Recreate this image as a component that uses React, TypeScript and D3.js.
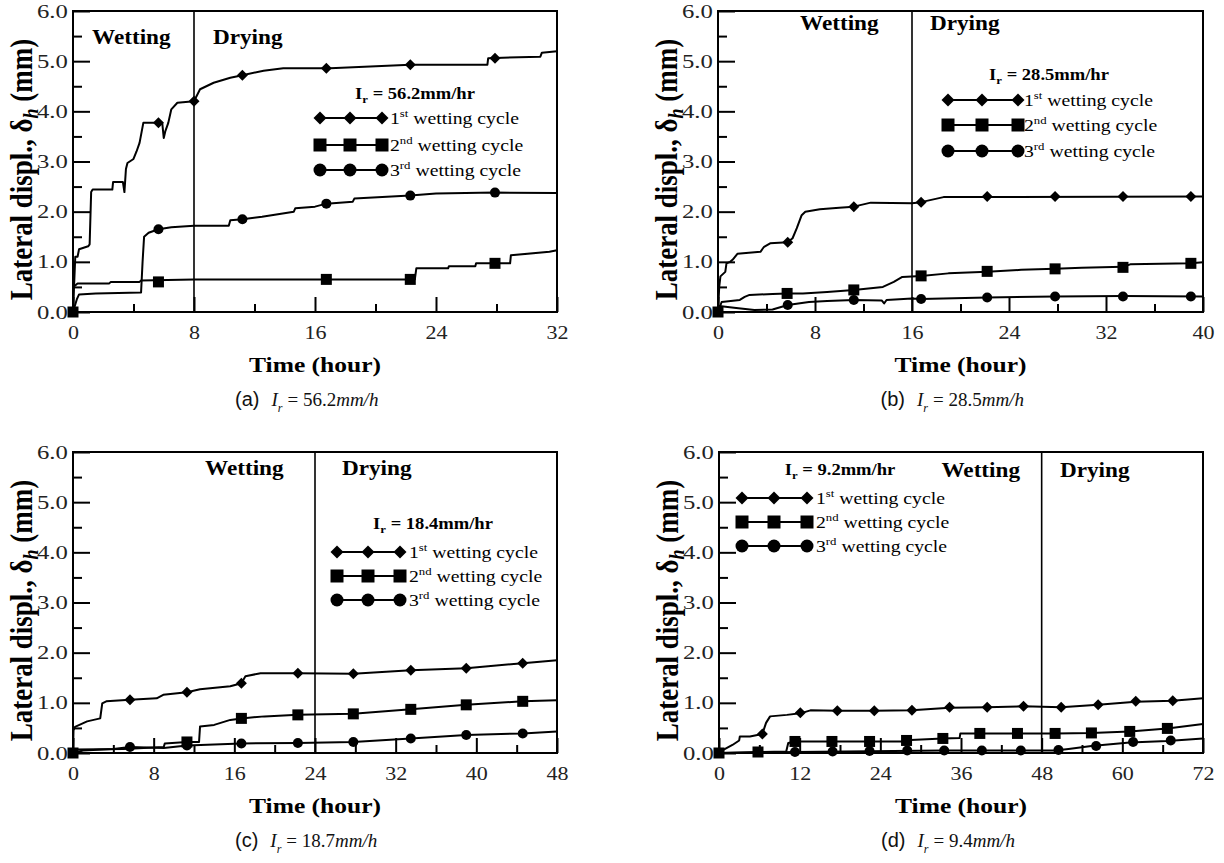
import React, { useEffect, useRef } from "react";
import * as d3 from "d3";

type Pt = [number, number];

const SERIF = "'Liberation Serif', 'Times New Roman', serif";
const SANS = "'Liberation Sans Narrow', 'Liberation Sans', Arial, sans-serif";

// y axis (same for every panel)
const yTicks = [0, 1, 2, 3, 4, 5, 6];
const yMinor = [0.5, 1.5, 2.5, 3.5, 4.5, 5.5];

// x axes
const ticksA = [0, 8, 16, 24, 32];
const minorA = [4, 12, 20, 28];
const ticksB = [0, 8, 16, 24, 32, 40];
const minorB = [4, 12, 20, 28, 36];
const ticksC = [0, 8, 16, 24, 32, 40, 48];
const minorC = [4, 12, 20, 28, 36, 44];
const ticksD = [0, 12, 24, 36, 48, 60, 72];
const minorD = [6, 18, 30, 42, 54, 66];

const cycleNums = ["1", "2", "3"];
const cycleSups = ["st", "nd", "rd"];
const legendRates = ["56.2mm/hr", "28.5mm/hr", "18.4mm/hr", "9.2mm/hr"];
const captionLetters = ["(a)", "(b)", "(c)", "(d)"];
const captionRates = ["56.2", "28.5", "18.7", "9.4"];

// (a) I_r = 56.2 mm/hr  -- [time (hour), lateral displ. (mm)]
const a1: Pt[] = [[0, 0], [0.15, 1.1], [0.3, 1.1], [0.4, 1.25], [1.0, 1.31], [1.1, 1.35], [1.2, 2.39], [1.3, 2.44], [2.6, 2.44], [2.65, 2.59], [3.3, 2.59], [3.4, 2.39], [3.5, 2.85], [3.6, 2.97], [4.0, 3.05], [4.2, 3.2], [4.4, 3.37], [4.65, 3.77], [5.9, 3.77], [6.0, 3.47], [6.1, 3.6], [6.3, 3.77], [6.5, 4.04], [6.9, 4.17], [8.0, 4.2], [8.4, 4.44], [9.3, 4.57], [10.4, 4.67], [11.2, 4.72], [12.6, 4.81], [13.9, 4.86], [17, 4.86], [22.3, 4.93], [27.4, 4.93], [27.45, 5.06], [30.9, 5.09], [31, 5.17], [32, 5.2]];
const a1Marks: Pt[] = [[5.65, 3.77], [8.0, 4.2], [11.2, 4.72], [16.75, 4.86], [22.3, 4.93], [27.9, 5.06]];
const a2: Pt[] = [[0, 0], [0.02, 0.5], [0.3, 0.57], [2.4, 0.57], [2.5, 0.6], [4.4, 0.6], [4.5, 0.63], [8, 0.65], [22.6, 0.65], [22.7, 0.87], [24.8, 0.87], [24.85, 0.91], [26.6, 0.91], [26.65, 0.97], [28.9, 0.97], [28.95, 1.13], [31.5, 1.2], [32, 1.23]];
const a2Marks: Pt[] = [[0, 0], [5.65, 0.6], [16.75, 0.65], [22.3, 0.65], [27.9, 0.97]];
const a3: Pt[] = [[0, 0], [0.1, 0.1], [0.25, 0.25], [0.4, 0.35], [1.5, 0.37], [4.5, 0.39], [4.6, 1.0], [4.7, 1.5], [5.0, 1.58], [5.65, 1.65], [6.5, 1.69], [8, 1.72], [10.3, 1.72], [10.4, 1.83], [11.2, 1.85], [12.5, 1.9], [14.6, 2.0], [14.7, 2.07], [16.0, 2.1], [16.75, 2.16], [18.5, 2.2], [18.6, 2.26], [22.3, 2.32], [24, 2.36], [27.9, 2.38], [32, 2.37]];
const a3Marks: Pt[] = [[5.65, 1.65], [11.2, 1.85], [16.75, 2.16], [22.3, 2.32], [27.9, 2.38]];

// (b) I_r = 28.5 mm/hr
const b1: Pt[] = [[0, 0], [0.1, 0.5], [0.2, 0.71], [0.6, 0.8], [0.7, 0.97], [1.0, 1.0], [1.2, 1.04], [1.6, 1.16], [3.5, 1.2], [3.8, 1.3], [4.3, 1.37], [5.75, 1.39], [6.15, 1.47], [6.5, 1.67], [6.9, 1.93], [7.2, 2.0], [8.4, 2.05], [10, 2.08], [11.2, 2.1], [12.6, 2.18], [16, 2.17], [16.75, 2.19], [18.6, 2.29], [40, 2.3]];
const b1Marks: Pt[] = [[5.75, 1.39], [11.2, 2.1], [16.75, 2.19], [22.2, 2.3], [27.8, 2.3], [33.4, 2.3], [39, 2.3]];
const b2: Pt[] = [[0, 0], [0.3, 0.2], [1.8, 0.24], [2.2, 0.3], [2.6, 0.34], [4.5, 0.36], [5.7, 0.37], [7.0, 0.37], [9, 0.4], [11.2, 0.44], [13.6, 0.5], [14.5, 0.6], [15.2, 0.7], [16.75, 0.72], [19, 0.77], [22.2, 0.8], [25, 0.84], [27.8, 0.86], [30, 0.88], [33.4, 0.9], [34, 0.95], [39, 0.97], [40, 0.99]];
const b2Marks: Pt[] = [[0, 0], [5.7, 0.37], [11.2, 0.44], [16.75, 0.72], [22.2, 0.81], [27.8, 0.86], [33.4, 0.89], [39, 0.97]];
const b3: Pt[] = [[0, 0], [0.1, 0.12], [1.5, 0.08], [3, 0.04], [4.5, 0.05], [5.2, 0.1], [5.75, 0.14], [7.5, 0.2], [9, 0.22], [11.2, 0.24], [13.5, 0.23], [13.7, 0.17], [13.9, 0.24], [16, 0.27], [16.75, 0.26], [22.2, 0.29], [27.8, 0.31], [33.4, 0.32], [40, 0.31]];
const b3Marks: Pt[] = [[5.75, 0.14], [11.2, 0.24], [16.75, 0.26], [22.2, 0.29], [27.8, 0.31], [33.4, 0.31], [39, 0.31]];

// (c) I_r = 18.4 mm/hr
const c1: Pt[] = [[0, 0], [0.05, 0.45], [0.2, 0.52], [1.4, 0.63], [2.7, 0.69], [2.9, 0.99], [3.3, 1.03], [5.65, 1.06], [8.3, 1.09], [8.95, 1.16], [11.3, 1.21], [12.6, 1.27], [15.6, 1.33], [16.7, 1.39], [17.1, 1.53], [18.6, 1.59], [22.3, 1.59], [27.8, 1.58], [33.5, 1.65], [39, 1.69], [44.6, 1.79], [48, 1.85]];
const c1Marks: Pt[] = [[5.65, 1.06], [11.3, 1.21], [16.7, 1.39], [22.3, 1.59], [27.8, 1.58], [33.5, 1.65], [39, 1.69], [44.6, 1.79]];
const c2: Pt[] = [[0, 0], [0.2, 0.07], [5, 0.08], [9, 0.12], [9.1, 0.19], [11.3, 0.22], [12.5, 0.22], [12.6, 0.53], [14, 0.56], [15.6, 0.66], [16.7, 0.69], [19, 0.73], [22.3, 0.76], [27.8, 0.78], [33.5, 0.87], [39, 0.96], [44.6, 1.03], [48, 1.05]];
const c2Marks: Pt[] = [[0, 0], [11.3, 0.22], [16.7, 0.69], [22.3, 0.76], [27.8, 0.78], [33.5, 0.87], [39, 0.96], [44.6, 1.03]];
const c3: Pt[] = [[0, 0], [1, 0.05], [4, 0.08], [5.65, 0.12], [9, 0.1], [11.3, 0.15], [16.7, 0.19], [22.3, 0.2], [27.8, 0.22], [33.5, 0.29], [39, 0.36], [44.6, 0.39], [48, 0.43]];
const c3Marks: Pt[] = [[5.65, 0.12], [11.3, 0.15], [16.7, 0.19], [22.3, 0.2], [27.8, 0.22], [33.5, 0.29], [39, 0.36], [44.6, 0.39]];

// (d) I_r = 9.2 mm/hr
const d1: Pt[] = [[0, 0], [0.5, 0.05], [2.0, 0.16], [3.0, 0.25], [3.1, 0.33], [4.6, 0.33], [6.45, 0.38], [7.0, 0.6], [7.6, 0.73], [10.1, 0.76], [12.1, 0.79], [13.6, 0.85], [17.6, 0.84], [23.1, 0.84], [28.7, 0.85], [34.3, 0.9], [39.9, 0.91], [45.3, 0.93], [50.9, 0.91], [56.4, 0.96], [62, 1.02], [67.5, 1.04], [72, 1.09]];
const d1Marks: Pt[] = [[6.45, 0.38], [12.1, 0.8], [17.6, 0.84], [23.1, 0.84], [28.7, 0.85], [34.3, 0.91], [39.9, 0.91], [45.3, 0.93], [50.9, 0.91], [56.4, 0.96], [62, 1.03], [67.5, 1.04]];
const d2: Pt[] = [[0, 0], [5.8, 0.02], [10, 0.03], [10.3, 0.2], [11.3, 0.23], [27.8, 0.23], [28.5, 0.26], [33.3, 0.29], [35.8, 0.3], [35.9, 0.39], [50, 0.39], [55.4, 0.4], [61.1, 0.43], [66.7, 0.49], [72, 0.58]];
const d2Marks: Pt[] = [[0, 0], [5.8, 0.02], [11.3, 0.23], [16.8, 0.23], [22.4, 0.23], [27.9, 0.25], [33.3, 0.29], [38.8, 0.39], [44.4, 0.39], [50, 0.39], [55.4, 0.4], [61.1, 0.43], [66.7, 0.49]];
const d3s: Pt[] = [[0, 0], [11.3, 0.02], [33.3, 0.05], [50, 0.05], [52, 0.08], [55.4, 0.14], [61.1, 0.21], [66.7, 0.24], [72, 0.29]];
const d3Marks: Pt[] = [[11.3, 0.02], [16.9, 0.03], [22.4, 0.04], [28, 0.05], [33.5, 0.05], [39.1, 0.05], [44.9, 0.05], [50.5, 0.06], [56.1, 0.14], [61.6, 0.22], [67.2, 0.25]];

const shapes = ["diamond", "square", "circle"];

const panels = [
  {
    x0: 73, x1: 557, y0: 11, y1: 312, xMax: 32, ticks: ticksA, minor: minorA, divider: 8,
    wet: [92, 44, "start"], dry: [213, 44, "start"],
    legend: { tx: 415, ty: 99, rows: [118, 145, 170], mx: [320, 350, 382], textX: 390 },
    series: [[a1, a1Marks], [a2, a2Marks], [a3, a3Marks]],
  },
  {
    x0: 718, x1: 1203, y0: 11, y1: 312, xMax: 40, ticks: ticksB, minor: minorB, divider: 16,
    wet: [800, 30, "start"], dry: [930, 30, "start"],
    legend: { tx: 1049, ty: 80, rows: [100, 125, 151], mx: [948, 982, 1018], textX: 1024 },
    series: [[b1, b1Marks], [b2, b2Marks], [b3, b3Marks]],
  },
  {
    x0: 73, x1: 557, y0: 452, y1: 753, xMax: 48, ticks: ticksC, minor: minorC, divider: 24,
    wet: [205, 475, "start"], dry: [342, 475, "start"],
    legend: { tx: 433, ty: 529, rows: [552, 576, 600], mx: [337, 368, 400], textX: 409 },
    series: [[c1, c1Marks], [c2, c2Marks], [c3, c3Marks]],
  },
  {
    x0: 719, x1: 1203, y0: 452, y1: 753, xMax: 72, ticks: ticksD, minor: minorD, divider: 48,
    wet: [1020, 477, "end"], dry: [1060, 477, "start"],
    legend: { tx: 840, ty: 475, rows: [498, 522, 546], mx: [742, 774, 807], textX: 816 },
    series: [[d1, d1Marks], [d2, d2Marks], [d3s, d3Marks]],
  },
];

function marker(g: any, shape: string, cx: number, cy: number, r: number) {
  if (shape === "circle") {
    g.append("circle").attr("cx", cx).attr("cy", cy).attr("r", r).attr("fill", "#000");
  } else if (shape === "diamond") {
    g.append("path").attr("d", `M${cx},${cy - r}L${cx + r},${cy}L${cx},${cy + r}L${cx - r},${cy}Z`).attr("fill", "#000");
  } else {
    g.append("path").attr("d", `M${cx - r},${cy - r}h${2 * r}v${2 * r}h${-2 * r}Z`).attr("fill", "#000");
  }
}

function label(g: any, x: number, y: number, size: number, opts: any = {}) {
  return g
    .append("text")
    .attr("transform", `translate(${x},${y}) scale(${opts.sx ?? 1.16},1)`)
    .attr("font-family", opts.family ?? SERIF)
    .attr("font-size", size)
    .attr("font-weight", opts.weight ?? "normal")
    .attr("text-anchor", opts.anchor ?? "start")
    .attr("fill", opts.fill ?? "#000");
}

const App = () => {
  const ref = useRef<SVGSVGElement>(null);

  useEffect(() => {
    const svg = d3.select(ref.current);
    svg.selectAll("*").remove();

    panels.forEach((p, pi) => {
      const x = d3.scaleLinear().domain([0, p.xMax]).range([p.x0, p.x1]);
      const y = d3.scaleLinear().domain([0, 6]).range([p.y1, p.y0]);
      const g = svg.append("g");

      // y axis ticks (inward)
      g.append("g")
        .attr("transform", `translate(${p.x0},0)`)
        .call(d3.axisLeft(y).tickValues(yMinor).tickSize(-9).tickFormat(() => ""))
        .call((s: any) => s.select(".domain").remove());
      const ya = g.append("g")
        .attr("transform", `translate(${p.x0},0)`)
        .call(d3.axisLeft(y).tickValues(yTicks).tickSize(-17).tickPadding(4).tickFormat(d3.format(".1f")));
      ya.select(".domain").remove();
      ya.selectAll("text")
        .attr("font-family", SERIF).attr("font-size", 19).attr("fill", "#222")
        .attr("transform", "scale(1.3,1)");

      // x axis ticks (inward)
      g.append("g")
        .attr("transform", `translate(0,${p.y1})`)
        .call(d3.axisBottom(x).tickValues(p.minor).tickSize(-8).tickFormat(() => ""))
        .call((s: any) => s.select(".domain").remove());
      const xa = g.append("g")
        .attr("transform", `translate(0,${p.y1})`)
        .call(d3.axisBottom(x).tickValues(p.ticks).tickSize(-15).tickPadding(14).tickFormat(d3.format("d")));
      xa.select(".domain").remove();
      xa.selectAll("text")
        .attr("font-family", SERIF).attr("font-size", 19).attr("fill", "#222")
        .attr("transform", "scale(1.16,1)");
      g.selectAll(".tick line").attr("stroke", "#000").attr("stroke-width", 2);

      // frame + wetting/drying divider
      g.append("rect")
        .attr("x", p.x0).attr("y", p.y0).attr("width", p.x1 - p.x0).attr("height", p.y1 - p.y0)
        .attr("fill", "none").attr("stroke", "#000").attr("stroke-width", 2);
      g.append("line")
        .attr("x1", x(p.divider)).attr("x2", x(p.divider)).attr("y1", p.y0).attr("y2", p.y1)
        .attr("stroke", "#000").attr("stroke-width", 1.6);

      label(g, p.wet[0] as number, p.wet[1] as number, 20, { weight: "bold", anchor: p.wet[2] }).text("Wetting");
      label(g, p.dry[0] as number, p.dry[1] as number, 20, { weight: "bold", anchor: p.dry[2] }).text("Drying");

      // series
      const line = d3.line<Pt>().x((d) => x(d[0])).y((d) => y(d[1]));
      p.series.forEach(([pts, marks], si) => {
        g.append("path").datum(pts).attr("d", line).attr("fill", "none")
          .attr("stroke", "#000").attr("stroke-width", 2).attr("stroke-linejoin", "round");
        (marks as Pt[]).forEach((m) => marker(g, shapes[si], x(m[0]), y(m[1]), shapes[si] === "circle" ? 5 : 5.5));
      });

      // legend
      const L = p.legend;
      const lt = label(g, L.tx, L.ty, 16, { weight: "bold", anchor: "middle" });
      lt.append("tspan").text("I");
      lt.append("tspan").attr("dy", 4).attr("font-size", 11).text("r");
      lt.append("tspan").attr("dy", -4).text(" = " + legendRates[pi]);
      L.rows.forEach((ry, si) => {
        g.append("line").attr("x1", L.mx[0]).attr("x2", L.mx[2]).attr("y1", ry).attr("y2", ry)
          .attr("stroke", "#000").attr("stroke-width", 2);
        L.mx.forEach((mx) => marker(g, shapes[si], mx, ry, 6.5));
        const t = label(g, L.textX, ry + 6, 17);
        t.append("tspan").text(cycleNums[si]);
        t.append("tspan").attr("dy", -7).attr("font-size", 11).text(cycleSups[si]);
        t.append("tspan").attr("dy", 7).text(" wetting cycle");
      });

      // axis titles
      const cx = (p.x0 + p.x1) / 2;
      label(g, cx, p.y1 + 60, 22, { weight: "bold", anchor: "middle" }).text("Time (hour)");
      const yl = g.append("text")
        .attr("transform", `translate(${p.x0 - 41},${(p.y0 + p.y1) / 2 + 8}) scale(1.16,1) rotate(-90)`)
        .attr("font-family", SERIF).attr("font-size", 27).attr("font-weight", "bold")
        .attr("text-anchor", "middle");
      yl.append("tspan").text("Lateral displ., \u03b4");
      yl.append("tspan").attr("dy", 5).attr("font-size", 18).attr("font-style", "italic").text("h");
      yl.append("tspan").attr("dy", -5).text(" (mm)");

      // caption
      const cap = g.append("text")
        .attr("transform", `translate(${cx - 80},${p.y1 + 94})`)
        .attr("font-size", 19).attr("fill", "#111");
      cap.append("tspan").attr("font-family", SANS).attr("font-size", 20).text(captionLetters[pi]);
      cap.append("tspan").attr("font-family", SERIF).attr("font-style", "italic").attr("dx", 12).text("I");
      cap.append("tspan").attr("font-family", SERIF).attr("font-style", "italic").attr("font-size", 12).attr("dy", 6).text("r");
      cap.append("tspan").attr("font-family", SERIF).attr("dy", -6).attr("dx", 5).text("= " + captionRates[pi]);
      cap.append("tspan").attr("font-family", SERIF).attr("font-style", "italic").text("mm/h");
    });
  }, []);

  return (
    <svg
      ref={ref}
      width={1224}
      height={863}
      style={{ position: "absolute", left: 0, top: 0, background: "#fff" }}
    ></svg>
  );
};

export default App;
